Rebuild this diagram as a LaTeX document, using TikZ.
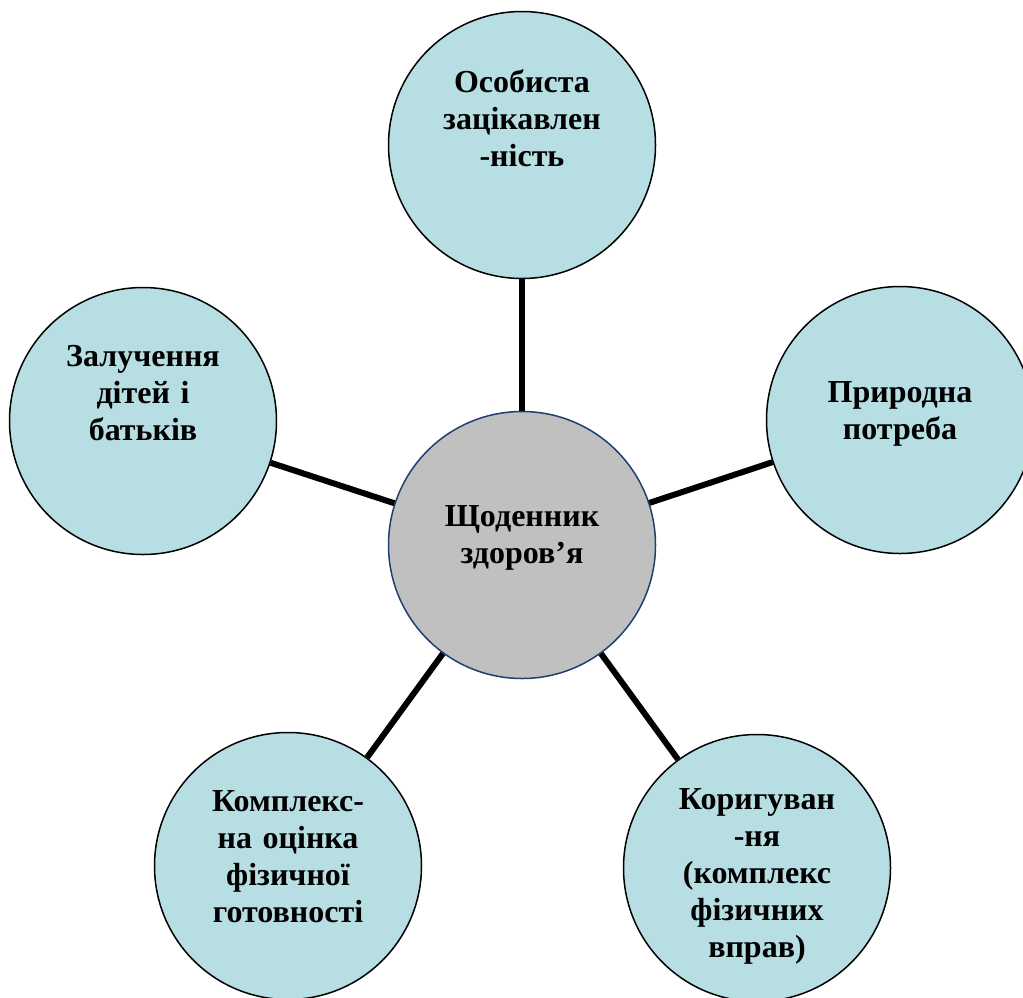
\documentclass[tikz,border=0pt]{standalone}
\usepackage{fontspec}
\setmainfont{Liberation Serif}
\definecolor{aquafill}{HTML}{B7DEE3}
\definecolor{greyfill}{HTML}{C0C0C0}
\definecolor{navyline}{HTML}{1F3F6E}
\begin{document}
\begin{tikzpicture}[x=1pt,y=-1pt,
  bubble/.style={circle,draw=black,line width=1.5pt,fill=aquafill,minimum size=267pt,inner sep=0pt},
  hub/.style={circle,draw=navyline,line width=1.5pt,fill=greyfill,minimum size=267pt,inner sep=0pt},
  label/.style={anchor=base,text width=260pt,align=center,inner sep=0pt,font=\fontsize{32}{37}\selectfont\bfseries},
  link/.style={line width=6pt,black}]
\useasboundingbox (0,0) rectangle (1023,997);
% circles
\node[hub] (C) at (522,545) {};
\node[bubble] (T) at (522,145) {};
\node[bubble] (R) at (900,420) {};
\node[bubble] (L) at (143,421) {};
\node[bubble] (BL) at (288,866) {};
\node[bubble] (BR) at (757,868) {};
% connectors
\draw[link] (C) -- (T);
\draw[link] (C) -- (R);
\draw[link] (C) -- (L);
\draw[link] (C) -- (BL);
\draw[link] (C) -- (BR);
% texts
\node[label] (tC) at (522,526) {Щоденник\\здоров’я};
\node[label] (tT) at (522,92) {Особиста\\зацікавлен\\-ність};
\node[label] (tR) at (900,402) {Природна\\потреба};
\node[label] (tL) at (143,366) {Залучення\\дітей і\\батьків};
\node[label] (tBL) at (288,811) {Комплекс-\\на оцінка\\фізичної\\готовності};
\node[label] (tBR) at (757,809) {Коригуван\\-ня\\(комплекс\\фізичних\\вправ)};
\end{tikzpicture}
\end{document}
